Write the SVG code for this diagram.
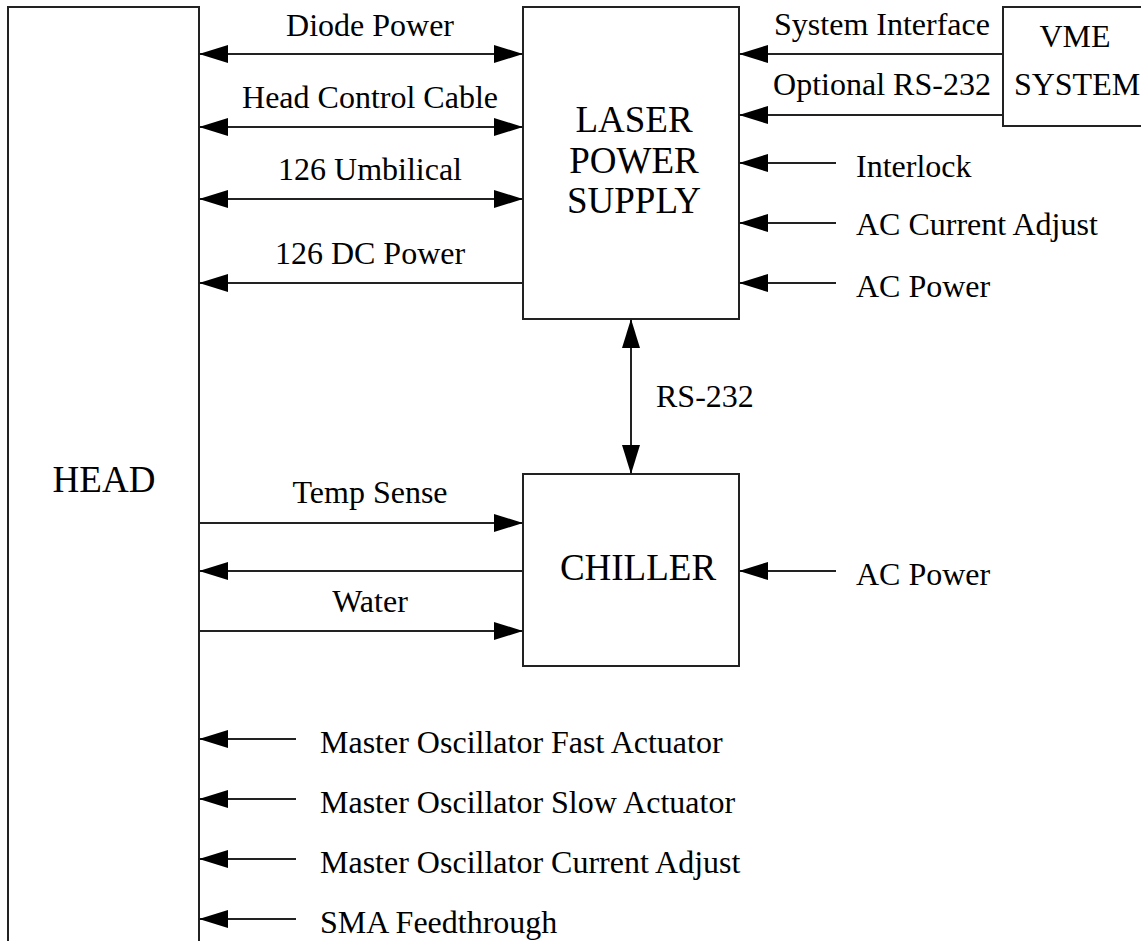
<svg xmlns="http://www.w3.org/2000/svg" width="1141" height="941" viewBox="0 0 1141 941">
<defs>
<marker id="ah" markerUnits="userSpaceOnUse" markerWidth="29" markerHeight="18" refX="29" refY="9" orient="auto-start-reverse" viewBox="0 0 29 18">
<path d="M0,0 L29,9 L0,18 z" fill="#000"/>
</marker>
<style>
.box{fill:#fff;stroke:#222;stroke-width:2}
.ln{stroke:#222;stroke-width:2;fill:none}
.end{marker-end:url(#ah)}
.both{marker-start:url(#ah);marker-end:url(#ah)}
.t{font-family:"Liberation Serif","Times New Roman",serif;font-size:32px;fill:#000}
.big{font-family:"Liberation Serif","Times New Roman",serif;font-size:37px;fill:#000;text-anchor:middle}
.c{text-anchor:middle}
</style>
</defs>
<rect width="1141" height="941" fill="#fff"/>
<g id="head">
<rect class="box" x="8" y="7" width="191" height="950"/>
<text class="big" x="104" y="492">HEAD</text>
</g>
<g id="lps">
<rect class="box" x="523" y="7" width="216" height="312"/>
<text class="big" x="634" y="132">LASER</text>
<text class="big" x="634" y="173">POWER</text>
<text class="big" x="634" y="213">SUPPLY</text>
</g>
<g id="vme">
<rect class="box" x="1003" y="7" width="150" height="119"/>
<text class="big" x="1075" y="47" style="font-size:32px">VME</text>
<text class="big" x="1077" y="95" style="font-size:32px">SYSTEM</text>
</g>
<g id="chiller">
<rect class="box" x="523" y="474" width="216" height="192"/>
<text class="big" x="638" y="580">CHILLER</text>
</g>
<g id="connectors">
<line class="ln both" x1="199" y1="54" x2="523" y2="54"/>
<line class="ln both" x1="199" y1="127" x2="523" y2="127"/>
<line class="ln both" x1="199" y1="199" x2="523" y2="199"/>
<line class="ln end" x1="523" y1="283" x2="199" y2="283"/>
<line class="ln end" x1="1003" y1="54" x2="739" y2="54"/>
<line class="ln end" x1="1003" y1="115" x2="739" y2="115"/>
<line class="ln end" x1="836" y1="163" x2="739" y2="163"/>
<line class="ln end" x1="836" y1="223" x2="739" y2="223"/>
<line class="ln end" x1="836" y1="283" x2="739" y2="283"/>
<line class="ln both" x1="631" y1="319" x2="631" y2="474"/>
<line class="ln end" x1="199" y1="523" x2="523" y2="523"/>
<line class="ln end" x1="523" y1="571" x2="199" y2="571"/>
<line class="ln end" x1="199" y1="631" x2="523" y2="631"/>
<line class="ln end" x1="836" y1="571" x2="739" y2="571"/>
<line class="ln end" x1="296" y1="739" x2="199" y2="739"/>
<line class="ln end" x1="296" y1="799" x2="199" y2="799"/>
<line class="ln end" x1="296" y1="859" x2="199" y2="859"/>
<line class="ln end" x1="296" y1="919" x2="199" y2="919"/>
</g>
<g id="labels">
<text class="t c" x="370" y="36">Diode Power</text>
<text class="t c" x="370" y="108">Head Control Cable</text>
<text class="t c" x="370" y="180">126 Umbilical</text>
<text class="t c" x="370" y="264">126 DC Power</text>
<text class="t c" x="882" y="35">System Interface</text>
<text class="t c" x="882" y="95">Optional RS-232</text>
<text class="t" x="856" y="177">Interlock</text>
<text class="t" x="856" y="235">AC Current Adjust</text>
<text class="t" x="856" y="297">AC Power</text>
<text class="t" x="656" y="407">RS-232</text>
<text class="t c" x="370" y="503">Temp Sense</text>
<text class="t c" x="370" y="612">Water</text>
<text class="t" x="856" y="585">AC Power</text>
<text class="t" x="320" y="753">Master Oscillator Fast Actuator</text>
<text class="t" x="320" y="813">Master Oscillator Slow Actuator</text>
<text class="t" x="320" y="873">Master Oscillator Current Adjust</text>
<text class="t" x="320" y="933">SMA Feedthrough</text>
</g>
</svg>
